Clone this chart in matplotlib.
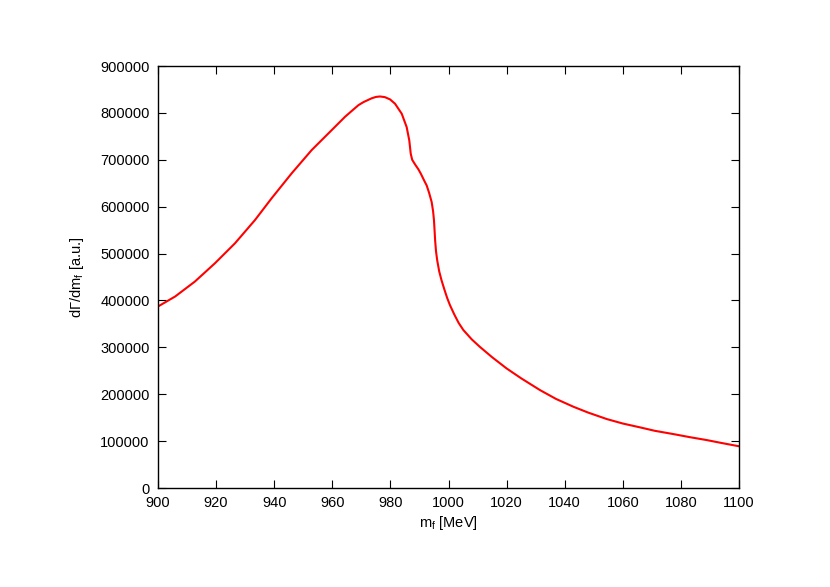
import matplotlib
matplotlib.use("Agg")
import matplotlib.pyplot as plt
from matplotlib.ticker import MultipleLocator, StrMethodFormatter

plt.rcParams['font.family'] = ['Liberation Sans', 'DejaVu Sans']
plt.rcParams['mathtext.fontset'] = 'custom'
plt.rcParams['mathtext.rm'] = 'Liberation Sans'
plt.rcParams['mathtext.default'] = 'regular'

# Values
mass = [900.0, 905.9, 912.7, 919.6, 926.5, 933.4, 939.1, 946.0, 952.9, 959.8,
        964.4, 967.5, 969.0, 970.7, 973.5, 975.0, 976.4, 978.1, 979.9, 981.6, 983.9,
        985.6, 986.5, 987.0, 987.5, 988.5, 989.6, 990.5, 991.6, 992.5, 993.3,
        994.2, 994.7, 995.0, 995.2, 995.4, 995.7, 996.1, 996.8, 997.6, 998.5,
        999.5, 1000.5, 1002.0, 1003.5, 1005.1, 1008.0, 1010.8, 1015.0, 1020.0,
        1025.0, 1031.5, 1037.0, 1043.0, 1048.0, 1054.5, 1060.0, 1066.0, 1071.0,
        1077.4, 1083.0, 1088.9, 1094.0, 1100.0]
rate = [387100, 408400, 440300, 479300, 521900, 571600, 617800, 671000, 720700, 763300,
        791800, 808500, 816500, 822900, 831000, 834000, 835000, 833600, 828700, 819500, 798200,
        769700, 741300, 713000, 700000, 690000, 680000, 670000, 656000, 645000, 630000,
        610000, 590000, 571000, 550000, 528000, 505000, 486000, 462000, 443000, 425000,
        406000, 390000, 370000, 352000, 337000, 317000, 301000, 279000, 255000,
        234000, 208800, 190000, 173300, 161000, 147000, 137500, 129200, 122000,
        115000, 108500, 102200, 96000, 89000]

fig = plt.figure(figsize=(8.3, 5.87), dpi=100)
ax = fig.add_axes([158/830, 1-488/587, (739-158)/830, (488-66)/587])
ax.plot(mass, rate, color='#ff0000', linewidth=1.5, solid_joinstyle='round')

ax.set_xlim(900, 1100)
ax.set_ylim(0, 900000)
ax.xaxis.set_major_locator(MultipleLocator(20))
ax.yaxis.set_major_locator(MultipleLocator(100000))
ax.yaxis.set_major_formatter(StrMethodFormatter('{x:.0f}'))
ax.tick_params(direction='in', length=6, width=0.8, top=True, right=True,
               labelsize=10.5, pad=6, colors='black')
for s in ax.spines.values():
    s.set_linewidth(1.0)

ax.set_xlabel('m$_{f}$ [MeV]', fontsize=10.5, labelpad=3)
ax.set_ylabel('dΓ/dm$_{f}$ [a.u.]', fontsize=10.5, labelpad=10)

fig.savefig('out.png', dpi=100)
